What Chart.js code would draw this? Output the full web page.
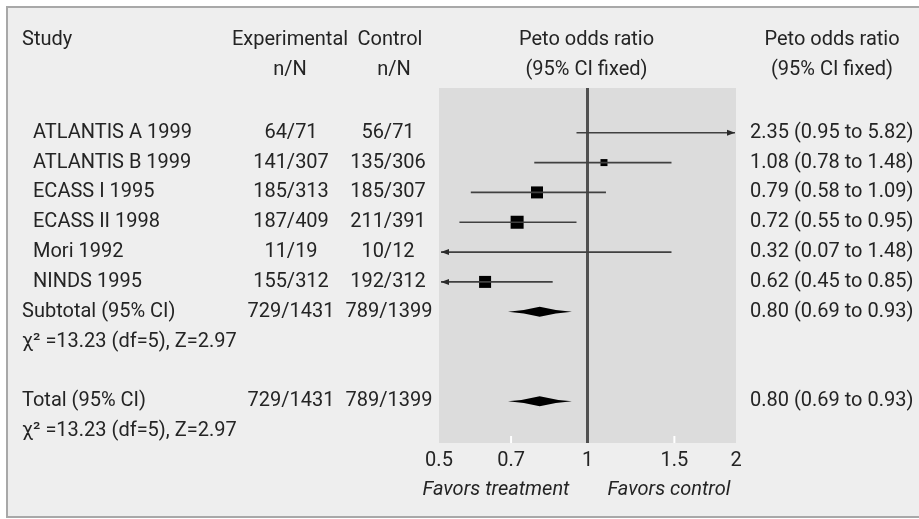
<!DOCTYPE html>
<html>
<head>
<meta charset="utf-8">
<script src="https://cdn.jsdelivr.net/npm/chart.js@4"></script>
<style>
  html, body { margin: 0; padding: 0; background: #ffffff; }
  #wrap { width: 919px; height: 519px; position: relative; }
</style>
</head>
<body>
<div id="wrap"><canvas id="myChart"></canvas></div>
<script>
// Study rows
const studies = ['ATLANTIS A 1999', 'ATLANTIS B 1999', 'ECASS I 1995', 'ECASS II 1998', 'Mori 1992', 'NINDS 1995'];
const experimental = ['64/71', '141/307', '185/313', '187/409', '11/19', '155/312'];
const control = ['56/71', '135/306', '185/307', '211/391', '10/12', '192/312'];
// Peto odds ratios with 95% CI
const oddsRatio = [2.35, 1.08, 0.79, 0.72, 0.32, 0.62];
const ciLow = [0.95, 0.78, 0.58, 0.55, 0.07, 0.45];
const ciHigh = [5.82, 1.48, 1.09, 0.95, 1.48, 0.85];
const orText = ['2.35 (0.95 to 5.82)', '1.08 (0.78 to 1.48)', '0.79 (0.58 to 1.09)', '0.72 (0.55 to 0.95)', '0.32 (0.07 to 1.48)', '0.62 (0.45 to 0.85)'];
// relative weight of each study (box size)
const weights = [6, 7, 12, 13, 4, 12];

// Pooled rows (subtotal and total)
const pooledLabels = ['Subtotal (95% CI)', 'Total (95% CI)'];
const pooledRows = [6, 9];
const pooledExp = ['729/1431', '729/1431'];
const pooledCtrl = ['789/1399', '789/1399'];
const pooledOR = [0.80, 0.80];
const pooledLow = [0.69, 0.69];
const pooledHigh = [0.93, 0.93];
const pooledText = ['0.80 (0.69 to 0.93)', '0.80 (0.69 to 0.93)'];
const heterogeneity = ['\u03C7\u00B2 =13.23 (df=5), Z=2.97', '\u03C7\u00B2 =13.23 (df=5), Z=2.97'];

// x axis ticks
const tickValues = [0.5, 0.7, 1, 1.5, 2];

const FONT = 'Roboto, "Liberation Sans", sans-serif';
const TEXT = '#242424';

// Draw the frame, table text, CI lines and diamonds
const forestPlugin = {
    id: 'forest',
    beforeDraw(chart) {
        const c = chart.ctx;
        const a = chart.chartArea;
        c.save();
        c.fillStyle = '#ffffff';
        c.fillRect(0, 0, chart.width, chart.height);
        c.fillStyle = '#eeeeee';
        c.fillRect(7, 7, chart.width, 510);
        c.strokeStyle = '#a8a8a8';
        c.lineWidth = 2;
        c.strokeRect(7, 7, chart.width + 10, 510);
        c.fillStyle = '#dcdcdc';
        c.fillRect(a.left, a.top, a.right - a.left, a.bottom - a.top);
        c.restore();
    },
    afterDatasetsDraw(chart) {
        const c = chart.ctx;
        const a = chart.chartArea;
        const xs = chart.scales.x;
        const ys = chart.scales.y;
        c.save();

        // white tick marks inside the plot
        c.strokeStyle = '#ffffff';
        c.lineWidth = 2;
        [0.7, 1.5].forEach(v => {
            const px = xs.getPixelForValue(v);
            c.beginPath();
            c.moveTo(px, a.bottom);
            c.lineTo(px, a.bottom - 7);
            c.stroke();
        });

        // confidence intervals
        c.strokeStyle = '#404040';
        c.fillStyle = '#2a2a2a';
        c.lineWidth = 1.6;
        studies.forEach((s, i) => {
            const y = ys.getPixelForValue(i);
            const lowOut = ciLow[i] < xs.min;
            const highOut = ciHigh[i] > xs.max;
            const x1 = lowOut ? a.left + 2 : xs.getPixelForValue(ciLow[i]);
            const x2 = highOut ? a.right - 1 : xs.getPixelForValue(ciHigh[i]);
            c.beginPath();
            c.moveTo(x1, y);
            c.lineTo(x2, y);
            c.stroke();
            if (lowOut) {
                c.beginPath();
                c.moveTo(x1, y);
                c.lineTo(x1 + 8, y - 3);
                c.lineTo(x1 + 8, y + 3);
                c.closePath();
                c.fill();
            }
            if (highOut) {
                c.beginPath();
                c.moveTo(x2, y);
                c.lineTo(x2 - 8, y - 3);
                c.lineTo(x2 - 8, y + 3);
                c.closePath();
                c.fill();
            }
        });

        // pooled diamonds
        c.fillStyle = '#000000';
        pooledRows.forEach((r, k) => {
            const y = ys.getPixelForValue(r);
            const xl = xs.getPixelForValue(pooledLow[k]);
            const xm = xs.getPixelForValue(pooledOR[k]);
            const xr = xs.getPixelForValue(pooledHigh[k]);
            c.beginPath();
            c.moveTo(xl, y);
            c.quadraticCurveTo((xl + xm) / 2, y - 1, xm, y - 5);
            c.quadraticCurveTo((xm + xr) / 2, y - 1, xr, y);
            c.quadraticCurveTo((xm + xr) / 2, y + 1, xm, y + 5);
            c.quadraticCurveTo((xl + xm) / 2, y + 1, xl, y);
            c.closePath();
            c.fill();
        });

        // table text
        c.fillStyle = TEXT;
        c.textBaseline = 'middle';
        c.font = '20px ' + FONT;
        const hy1 = ys.getPixelForValue(-3.1);
        const hy2 = ys.getPixelForValue(-2.1);
        const xOne = xs.getPixelForValue(1);

        c.textAlign = 'left';
        c.fillText('Study', 22, hy1);
        c.textAlign = 'center';
        c.fillText('Experimental', 290, hy1);
        c.fillText('Control', 390, hy1);
        c.fillText('n/N', 290, hy2);
        c.fillText('n/N', 394, hy2);
        c.fillText('Peto odds ratio', xOne - 1, hy1);
        c.fillText('(95% CI fixed)', xOne - 1, hy2);
        c.fillText('Peto odds ratio', 832, hy1);
        c.fillText('(95% CI fixed)', 832, hy2);

        studies.forEach((s, i) => {
            const y = ys.getPixelForValue(i);
            c.textAlign = 'left';
            c.fillText(s, 33, y);
            c.fillText(orText[i], 750, y);
            c.textAlign = 'center';
            c.fillText(experimental[i], 291, y);
            c.fillText(control[i], 388, y);
        });
        pooledRows.forEach((r, k) => {
            const y = ys.getPixelForValue(r);
            c.textAlign = 'left';
            c.fillText(pooledLabels[k], 22, y);
            c.fillText(pooledText[k], 750, y);
            c.fillText(heterogeneity[k], 22, ys.getPixelForValue(r + 1));
            c.textAlign = 'center';
            c.fillText(pooledExp[k], 291, y);
            c.fillText(pooledCtrl[k], 389, y);
        });

        c.font = 'italic 20px ' + FONT;
        c.textAlign = 'center';
        const fy = a.bottom + 47;
        c.fillText('Favors treatment', 496, fy);
        c.fillText('Favors control', 669, fy);
        c.restore();
    }
};

const ctx = document.getElementById('myChart');
new Chart(ctx, {
    type: 'scatter',
    data: {
        datasets: [{
            data: oddsRatio.map((v, i) => ({ x: v, y: i })),
            pointStyle: 'rect',
            pointRadius: weights.map(w => w / Math.SQRT2),
            backgroundColor: '#000000',
            borderColor: '#000000',
            borderWidth: 0,
            clip: 0
        }]
    },
    options: {
        responsive: true,
        maintainAspectRatio: false,
        animation: false,
        devicePixelRatio: 1,
        layout: {
            padding: { left: 439, right: 183, top: 88, bottom: 40 }
        },
        scales: {
            x: {
                type: 'logarithmic',
                min: 0.5,
                max: 2,
                afterBuildTicks: scale => {
                    scale.ticks = tickValues.map(v => ({ value: v }));
                },
                ticks: {
                    color: TEXT,
                    padding: 6,
                    maxRotation: 0,
                    autoSkip: false,
                    font: { family: FONT, size: 20 },
                    callback: v => String(v)
                },
                grid: {
                    drawTicks: false,
                    color: c => (c.tick && c.tick.value === 1 ? '#505050' : 'rgba(0,0,0,0)'),
                    lineWidth: 3
                },
                border: { display: false }
            },
            y: {
                type: 'linear',
                display: false,
                reverse: true,
                min: -1.5,
                max: 10.4
            }
        },
        plugins: {
            legend: { display: false },
            tooltip: { enabled: false }
        }
    },
    plugins: [forestPlugin]
});
</script>
</body>
</html>
